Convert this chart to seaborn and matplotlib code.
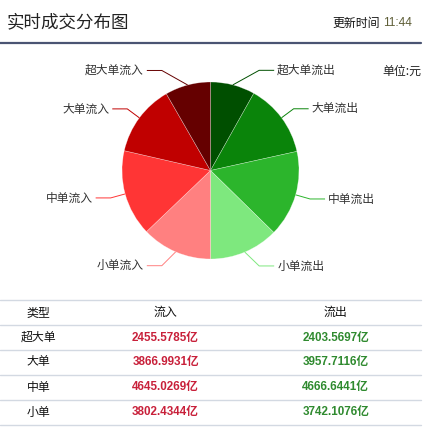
import numpy as np
import matplotlib
matplotlib.use('Agg')
import matplotlib.pyplot as plt
import seaborn as sns

# ---------------- data ----------------
title = '实时成交分布图'
update_label = '更新时间'
update_time = '11:44'
unit_label = '单位:元'

table_header = ['类型', '流入', '流出']
table_types = ['超大单', '大单', '中单', '小单']
inflow = [2455.5785, 3866.9931, 4645.0269, 3802.4344]
outflow = [2403.5697, 3957.7116, 4666.6441, 3742.1076]
unit_suffix = '亿'

# pie goes clockwise from top: outflows (超大->小), then inflows (小->超大)
slice_labels = [t + '流出' for t in table_types] + [t + '流入' for t in table_types[::-1]]
slice_values = outflow + inflow[::-1]
slice_colors = ['#004f00', '#0a840a', '#2cb52c', '#7ee87e',
                '#ff8080', '#ff3535', '#c00000', '#650000']

# ---------------- style ----------------
sns.set_theme(style='white')
plt.rcParams['font.family'] = ['Noto Sans CJK SC', 'DejaVu Sans']
palette = sns.color_palette(slice_colors)

W, H = 432, 437
fig = plt.figure(figsize=(W / 100, H / 100), dpi=100)
ax = fig.add_axes([0, 0, 1, 1])

def Y(y):
    return H - y

# ---------------- pie ----------------
cx, cy, R = 210.5, 170.5, 88.5
wedges, _ = ax.pie(slice_values, colors=palette, startangle=90, counterclock=False,
                   center=(cx, Y(cy)), radius=R,
                   wedgeprops=dict(linewidth=0.4, edgecolor=(1, 1, 1, 0.45)))

for w, lab, col in zip(wedges, slice_labels, palette):
    mid = np.deg2rad((w.theta1 + w.theta2) / 2)
    c, s = np.cos(mid), np.sin(mid)
    x0, y0 = cx + R * c, Y(cy) + R * s
    Re = R * 1.17
    ex, ey = cx + Re * c, Y(cy) + Re * s
    side = 1 if c >= 0 else -1
    if abs(ex - cx) < 0.55 * R:
        ex = cx + side * 0.55 * R
    x2 = ex + side * 15
    ax.plot([x0, ex, x2], [y0, ey, ey], color=col, lw=0.7, solid_capstyle='butt')
    ax.text(x2 + side * 3, ey, lab, ha='left' if side > 0 else 'right', va='center',
            fontsize=8.5, color='#333333')

ax.set_xlim(0, W)
ax.set_ylim(0, H)
ax.set_aspect('auto')
ax.axis('off')

# ---------------- header ----------------
ax.text(7, Y(22), title, fontsize=12.6, color='#222222', ha='left', va='center')
ax.text(332, Y(23), update_label, fontsize=8.6, color='#111111', ha='left', va='center')
ax.text(383, Y(23), update_time, fontsize=8.6, color='#5f5f38', ha='left', va='center',
        family=['Liberation Sans', 'DejaVu Sans'])
ax.plot([0, 421], [Y(42.7), Y(42.7)], color='#4a5473', lw=1.6)
ax.text(421, Y(71), unit_label, fontsize=8.6, color='#222222', ha='right', va='center')

# ---------------- table ----------------
line_ys = [299.5, 324.5, 349.5, 374.5, 399.5, 424.5]
for ly in line_ys:
    ax.plot([0, 421], [Y(ly), Y(ly)], color='#d3d9e2', lw=1.0)

col_x = [38.5, 165.5, 335.8]
row_y = [312.5, 337.5, 362, 387, 412]
for x, h in zip(col_x, table_header):
    ax.text(x, Y(row_y[0]), h, fontsize=8.6, color='#111111', ha='center', va='center')
for i, t in enumerate(table_types):
    yy = Y(row_y[i + 1])
    ax.text(col_x[0], yy, t, fontsize=8.6, color='#111111', ha='center', va='center')
    ax.text(col_x[1], yy, f'{inflow[i]:.4f}{unit_suffix}', fontsize=8.4, fontweight='bold',
            color='#c8203a', ha='center', va='center',
            family=['Liberation Sans', 'Noto Sans CJK SC'])
    ax.text(col_x[2], yy, f'{outflow[i]:.4f}{unit_suffix}', fontsize=8.4, fontweight='bold',
            color='#2f8a2f', ha='center', va='center',
            family=['Liberation Sans', 'Noto Sans CJK SC'])

fig.savefig('out.png', dpi=100, facecolor='white')
